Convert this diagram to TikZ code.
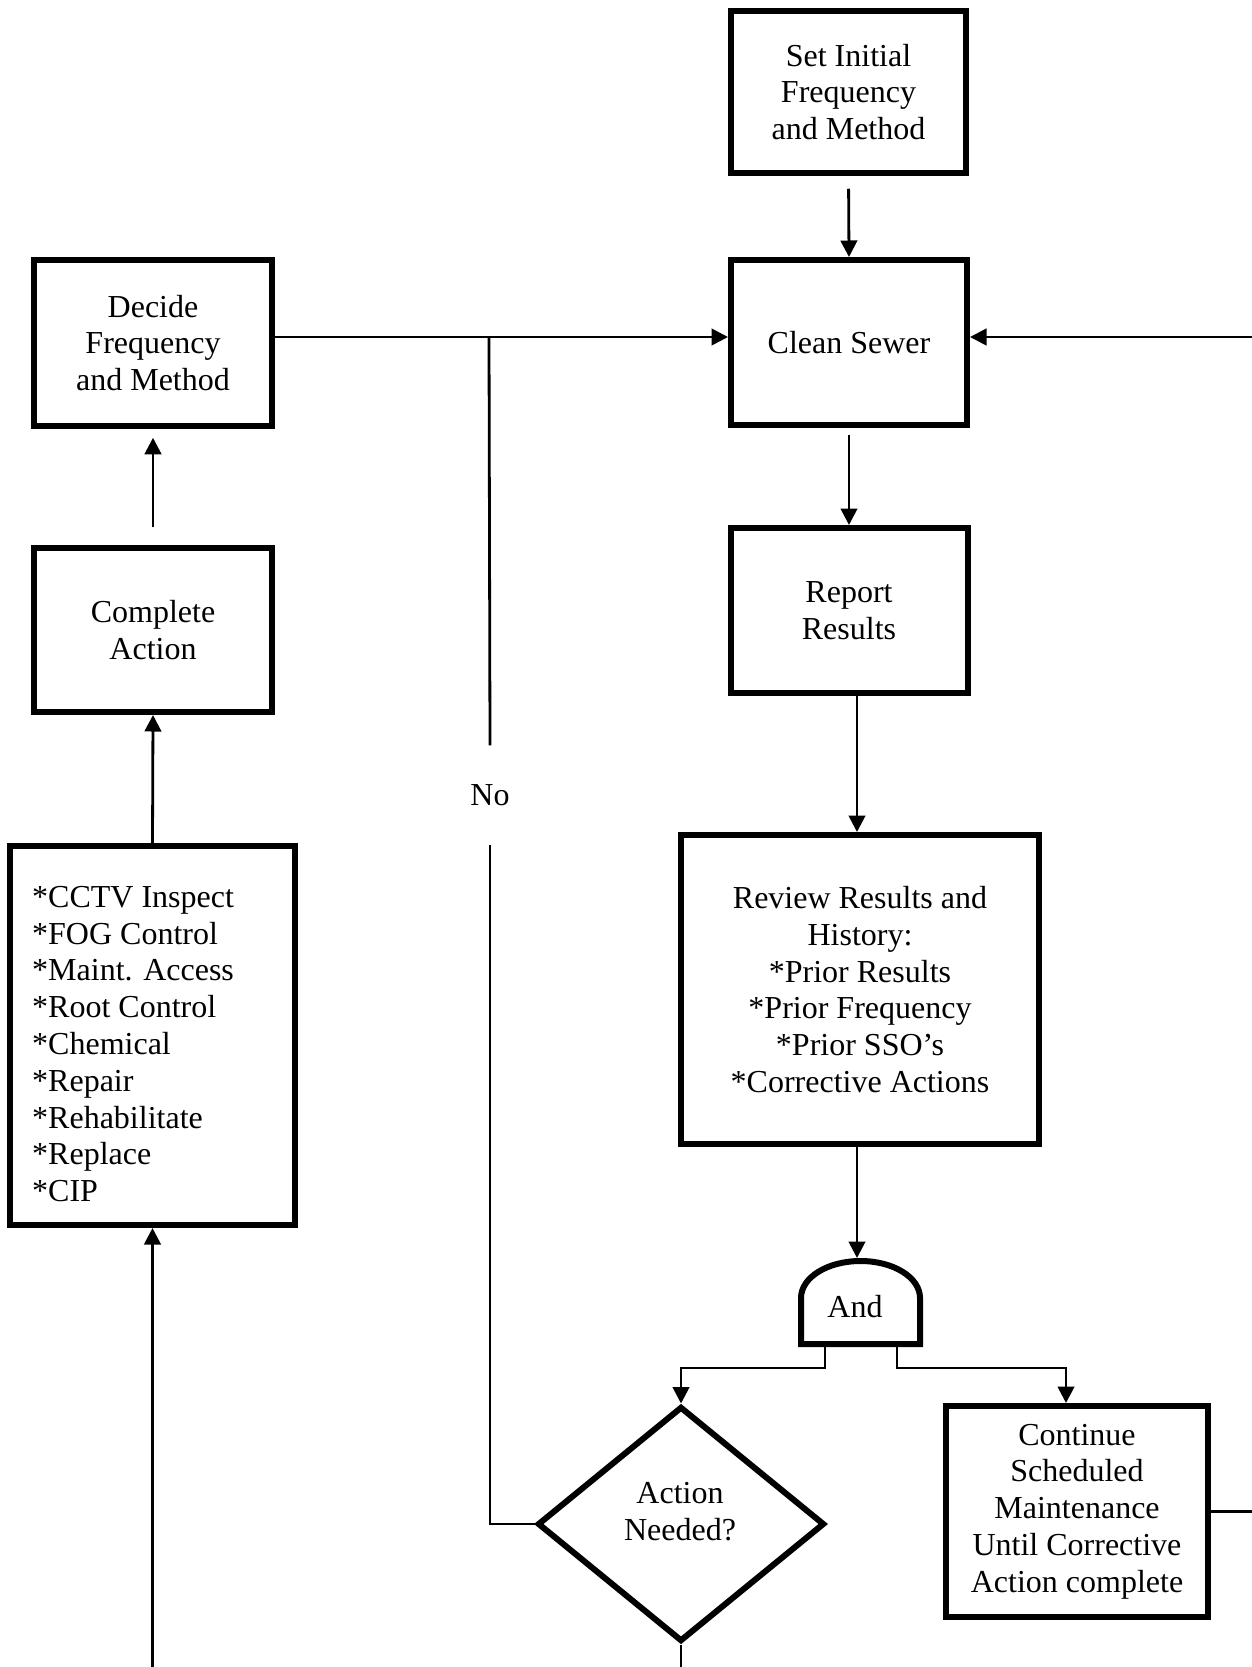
\documentclass[tikz,border=0pt]{standalone}
\usepackage{fontspec}
\setmainfont{Liberation Serif}
\usetikzlibrary{arrows.meta,shapes.geometric,calc}
\begin{document}
\begin{tikzpicture}[x=1pt,y=-1pt,
  txt/.style={font=\fontsize{32}{36.8}\selectfont, inner sep=0pt, align=center},
  box/.style={txt, draw, line width=6pt, rectangle},
  conn/.style={line width=2.8pt},
  arr/.style={conn, -{Triangle[length=16.5pt,width=16.5pt]}}]
\useasboundingbox (0,0) rectangle (1252,1667);
\clip (0,0) rectangle (1252,1667);
% boxes
\node[box, minimum width=235, minimum height=162] (setinit) at (848.5,92) {Set Initial\\Frequency\\and Method};
\node[box, minimum width=236, minimum height=165] (clean) at (849,342.5) {Clean Sewer};
\node[box, minimum width=237, minimum height=165] (report) at (849,610.5) {Report\\Results};
\node[box, minimum width=238, minimum height=166] (decide) at (153,343) {Decide\\Frequency\\and Method};
\node[box, minimum width=238, minimum height=164] (complete) at (153,630) {Complete\\Action};
\node[box, minimum width=285, minimum height=379] (cctv) at (152.5,1035.5) {};
\node[txt, anchor=west, align=left] (cctvtext) at (32,1044) {*CCTV Inspect\\*FOG Control\\*Maint. Access\\*Root Control\\*Chemical\\*Repair\\*Rehabilitate\\*Replace\\*CIP};
\node[box, minimum width=358, minimum height=309] (review) at (860,989.5) {Review Results and\\History:\\*Prior Results\\*Prior Frequency\\*Prior SSO’s\\*Corrective Actions};
\node[box, minimum width=262, minimum height=211] (cont) at (1077,1511.5) {Continue\\Scheduled\\Maintenance\\Until Corrective\\Action complete};
% diamond
\node[draw, diamond, line width=6pt, inner sep=0pt, minimum width=287, minimum height=235] (diam) at (681,1524) {};
\node[txt] (diamtext) at (680,1512) {Action\\Needed?};
% and gate
\draw[line width=6pt, line join=miter] (801,1344) -- (801,1298)
  .. controls (801,1277.4) and (827.5,1261) .. (860.5,1261)
  .. controls (893.5,1261) and (920,1277.4) .. (920,1298)
  -- (920,1344) -- cycle;
\node[txt] (andg) at (855,1307) {And};
\coordinate (andtop) at (857,1258);
\coordinate (andL) at (825,1345);
\coordinate (andR) at (897,1345);
% no label
\node[txt, minimum height=99] (no) at (490,795) {No};
\coordinate (j) at (489,337);
% connectors
\draw[arr, shorten <=12.75pt] (setinit.south) -- (clean.north);
\draw[arr, shorten <=7pt] (clean.south) -- (report.north);
\draw[arr] ([xshift=8pt]report.south) -- ([xshift=8pt]report.south |- review.north);
\draw[arr] ([xshift=-3pt]review.south) -- (andtop);
\draw[arr] (andL) -- ++(0,23) -| (diam.north);
\draw[arr] (andR) -- ++(0,23) -| ([xshift=-11pt]cont.north);
\draw[conn] (diam.west) -| (no.south);
\draw[conn] (no.north) -- (j);
\draw[arr] (decide.east |- j) -- (clean.west |- j);
\draw[arr] (cont.east) -- ++(80,0) |- (clean.east |- j);
\draw[arr] (diam.south) -- ++(0,80) -| (cctv.south);
\draw[arr] (cctv.north) -- (complete.south);
\draw[arr, shorten <=17.75pt, shorten >=8.75pt] (complete.north) -- (decide.south);
\end{tikzpicture}
\end{document}
